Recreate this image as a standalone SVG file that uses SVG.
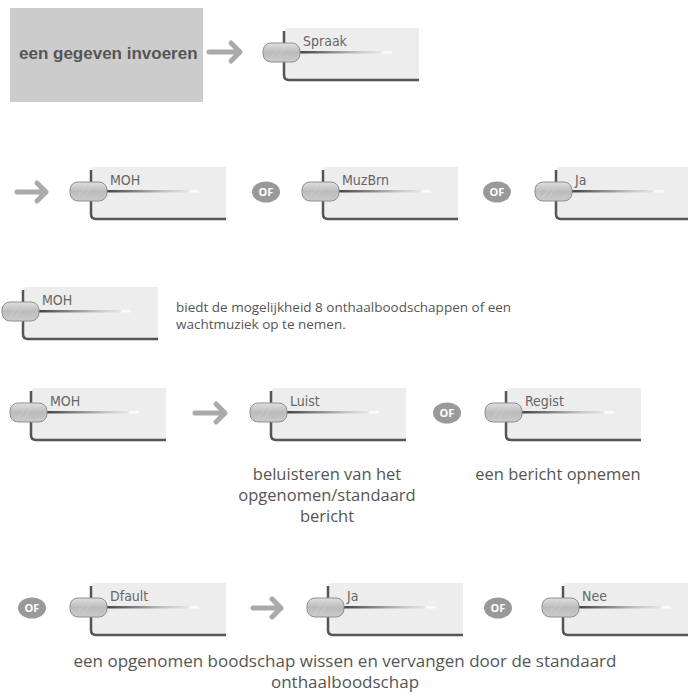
<svg xmlns="http://www.w3.org/2000/svg" xmlns:xlink="http://www.w3.org/1999/xlink" width="688" height="699" viewBox="0 0 688 699">
<style>
.lbl{font-family:"DejaVu Sans Condensed","DejaVu Sans",sans-serif;font-size:14px;fill:#666}
.of{font-family:"Open Sans","Liberation Sans",sans-serif;font-size:11px;font-weight:bold;fill:#fff}
.desc{font-family:"Open Sans",Lato,sans-serif;fill:#555}
.arrow{fill:none;stroke:#aaa;stroke-width:5;stroke-linecap:round;stroke-linejoin:round}
</style>
<defs>
<linearGradient id="pillGrad" x1="0" y1="0" x2="0" y2="1">
<stop offset="0" stop-color="#e0e0e0"/>
<stop offset="0.5" stop-color="#bbbbbb"/>
<stop offset="1" stop-color="#cbcbcb"/>
</linearGradient>
<linearGradient id="lineGrad" x1="0" y1="0" x2="1" y2="0">
<stop offset="0" stop-color="#444"/>
<stop offset="0.65" stop-color="#c8c8c8"/>
<stop offset="0.88" stop-color="#e4e4e4"/>
<stop offset="0.9" stop-color="#fafafa"/>
<stop offset="1" stop-color="#fafafa"/>
</linearGradient>
<g id="widget">
<path d="M0,4 Q0,0 4,0 H135 V52 H0 Z" fill="#ededed"/>
<path d="M0,3 V47 Q0,52 5,52 H135" fill="none" stroke="#555" stroke-width="2.5"/>
<rect x="16" y="23" width="92" height="2.5" fill="url(#lineGrad)"/>
<rect x="-21" y="15" width="37" height="19" rx="8" fill="url(#pillGrad)" stroke="#8f8f8f" stroke-width="1"/>
<path d="M-14,31 L-4,18 M-8,31 L2,18" stroke="#d2d2d2" stroke-width="1" opacity="0.7"/>
</g>
<g id="ofb">
<ellipse cx="0" cy="0" rx="14" ry="10.5" fill="#999"/>
<text x="0" y="4" text-anchor="middle" class="of">OF</text>
</g>
</defs>

<g id="start">
<rect x="10" y="8" width="193" height="94" fill="#ccc"/>
<text x="19" y="59" font-family="Liberation Sans,Arial,sans-serif" font-weight="bold" font-size="17" fill="#555">een gegeven invoeren</text>
</g>

<g id="connectors">
<path class="arrow" d="M209,52 H240 M231,43 L240,52 L231,61"/>
<path class="arrow" d="M17,192 H46 M37,183 L46,192 L37,201"/>
<path class="arrow" d="M195,413 H225 M216,404 L225,413 L216,422"/>
<path class="arrow" d="M253,608 H281 M272,599 L281,608 L272,617"/>
<use xlink:href="#ofb" x="266" y="192"/>
<use xlink:href="#ofb" x="497" y="192"/>
<use xlink:href="#ofb" x="447" y="413"/>
<use xlink:href="#ofb" x="32" y="608"/>
<use xlink:href="#ofb" x="498" y="608"/>
</g>

<g id="n-spraak" transform="translate(284,28)"><use xlink:href="#widget"/><text class="lbl" x="19" y="18">Spraak</text></g>

<g id="n-moh1" transform="translate(91,167)"><use xlink:href="#widget"/><text class="lbl" x="19" y="18">MOH</text></g>
<g id="n-muzbrn" transform="translate(323,167)"><use xlink:href="#widget"/><text class="lbl" x="19" y="18">MuzBrn</text></g>
<g id="n-ja1" transform="translate(556,167)"><use xlink:href="#widget"/><text class="lbl" x="19" y="18">Ja</text></g>

<g id="n-moh2" transform="translate(23,287)"><use xlink:href="#widget"/><text class="lbl" x="19" y="18">MOH</text></g>
<g id="t-moh2">
<text class="desc" font-size="13.5" x="176" y="312">biedt de mogelijkheid 8 onthaalboodschappen of een</text>
<text class="desc" font-size="13.5" x="176" y="329">wachtmuziek op te nemen.</text>
</g>

<g id="n-moh3" transform="translate(31,388)"><use xlink:href="#widget"/><text class="lbl" x="19" y="18">MOH</text></g>
<g id="n-luist" transform="translate(271,388)"><use xlink:href="#widget"/><text class="lbl" x="19" y="18">Luist</text></g>
<g id="n-regist" transform="translate(506,388)"><use xlink:href="#widget"/><text class="lbl" x="19" y="18">Regist</text></g>
<g id="t-luist" text-anchor="middle">
<text class="desc" font-size="16.5" x="327" y="480">beluisteren van het</text>
<text class="desc" font-size="16.5" x="327" y="501">opgenomen/standaard</text>
<text class="desc" font-size="16.5" x="327" y="522">bericht</text>
</g>
<g id="t-regist"><text class="desc" font-size="16.5" x="558" y="480" text-anchor="middle">een bericht opnemen</text></g>

<g id="n-dfault" transform="translate(91,583)"><use xlink:href="#widget"/><text class="lbl" x="19" y="18">Dfault</text></g>
<g id="n-ja2" transform="translate(328,583)"><use xlink:href="#widget"/><text class="lbl" x="19" y="18">Ja</text></g>
<g id="n-nee" transform="translate(563,583)"><use xlink:href="#widget"/><text class="lbl" x="19" y="18">Nee</text></g>
<g id="t-dfault" text-anchor="middle">
<text class="desc" font-size="17" x="345" y="667">een opgenomen boodschap wissen en vervangen door de standaard</text>
<text class="desc" font-size="17" x="345" y="688">onthaalboodschap</text>
</g>
</svg>
